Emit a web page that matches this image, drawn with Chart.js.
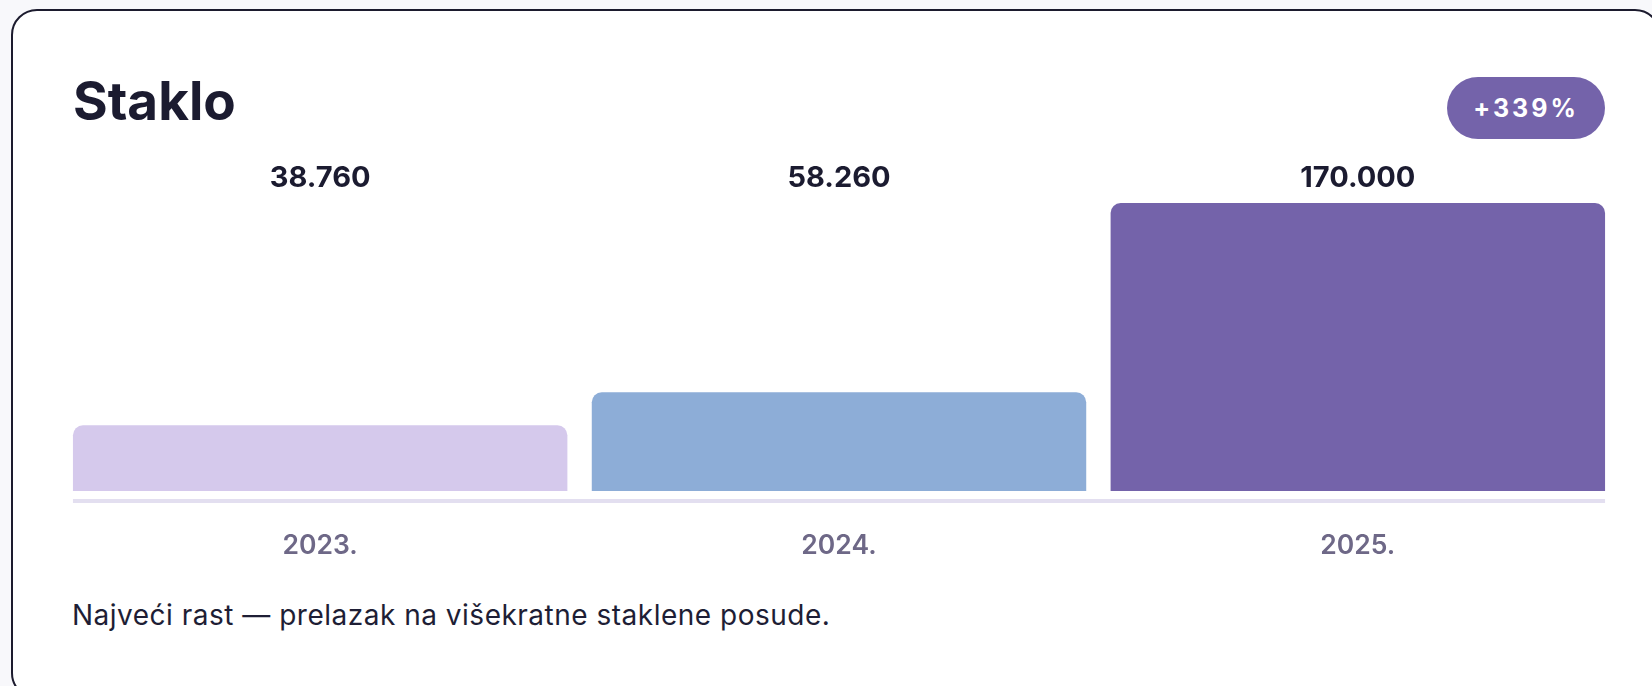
<!DOCTYPE html>
<html>
<head>
<meta charset="utf-8">
<script src="https://cdn.jsdelivr.net/npm/chart.js@4.4.1/dist/chart.umd.min.js"></script>
<style>
  html, body { margin: 0; padding: 0; }
  body {
    width: 1652px; height: 686px; overflow: hidden; position: relative;
    background: #f8f8fb; font-family: Inter, "Noto Sans", sans-serif;
  }
  .card {
    position: absolute; left: 11px; top: 9px; width: 1650px; height: 690px;
    background: #fff; border: 2px solid #1c1b2e; border-radius: 26px; box-sizing: border-box;
  }
  .title {
    position: absolute; left: 73px; top: 75px; margin: 0;
    font-size: 53px; line-height: 1; font-weight: 700; color: #1b1b30;
  }
  .badge {
    position: absolute; left: 1447px; top: 77px; width: 158px; height: 62px;
    border-radius: 31px; background: #7463aa; color: #fff;
    display: flex; align-items: center; justify-content: center;
    font-size: 25px; font-weight: 700; letter-spacing: 3px;
  }
  .note {
    position: absolute; left: 72px; top: 601px; margin: 0;
    font-size: 28px; line-height: 1; font-weight: 400; color: #1e1e35;
    letter-spacing: 0.5px; white-space: nowrap;
  }
  #chart { position: absolute; left: 0; top: 0; }
</style>
</head>
<body>
<div class="card"></div>
<h2 class="title">Staklo</h2>
<div class="badge">+339%</div>
<p class="note">Najveći rast — prelazak na višekratne staklene posude.</p>
<canvas id="chart" width="1652" height="686"></canvas>
<script>
// data
const years = ["2023.", "2024.", "2025."];
const amounts = [38760, 58260, 170000];
const barColors = ["#d5c9ec", "#8dadd7", "#7463aa"];

// 38760 -> "38.760"
function fmt(v) {
    return String(v).replace(/\B(?=(\d{3})+(?!\d))/g, ".");
}

// labels above the bars, baseline strip and year labels
const labelsPlugin = {
    id: "barLabels",
    afterDatasetsDraw(chart) {
        const ctx = chart.ctx;
        const area = chart.chartArea;
        const bars = chart.getDatasetMeta(0).data;
        ctx.save();

        const first = bars[0];
        const last = bars[bars.length - 1];
        const x0 = first.x - first.width / 2;
        const x1 = last.x + last.width / 2;
        ctx.fillStyle = "#e3dff0";
        ctx.fillRect(x0, area.bottom + 8, x1 - x0, 4);

        ctx.textAlign = "center";
        ctx.textBaseline = "alphabetic";
        bars.forEach((bar, i) => {
            ctx.font = "700 29px Inter";
            ctx.fillStyle = "#1b1b30";
            ctx.fillText(fmt(amounts[i]), bar.x, area.top - 16);

            ctx.font = "600 26.5px Inter";
            ctx.fillStyle = "#6e6887";
            ctx.fillText(years[i], bar.x, area.bottom + 63);
        });
        ctx.restore();
    }
};

new Chart(document.getElementById("chart"), {
    type: "bar",
    data: {
        labels: years,
        datasets: [{
            data: amounts,
            backgroundColor: barColors,
            borderRadius: 10,
            borderSkipped: "start",
            barPercentage: 0.953,
            categoryPercentage: 1
        }]
    },
    options: {
        responsive: false,
        animation: false,
        devicePixelRatio: 1,
        layout: {
            padding: { left: 60.75, right: 34.75, top: 203, bottom: 195 }
        },
        plugins: {
            legend: { display: false },
            tooltip: { enabled: false },
            title: { display: false }
        },
        scales: {
            x: { display: false },
            y: { display: false, min: 0, max: 170000 }
        }
    },
    plugins: [labelsPlugin]
});
</script>
</body>
</html>
